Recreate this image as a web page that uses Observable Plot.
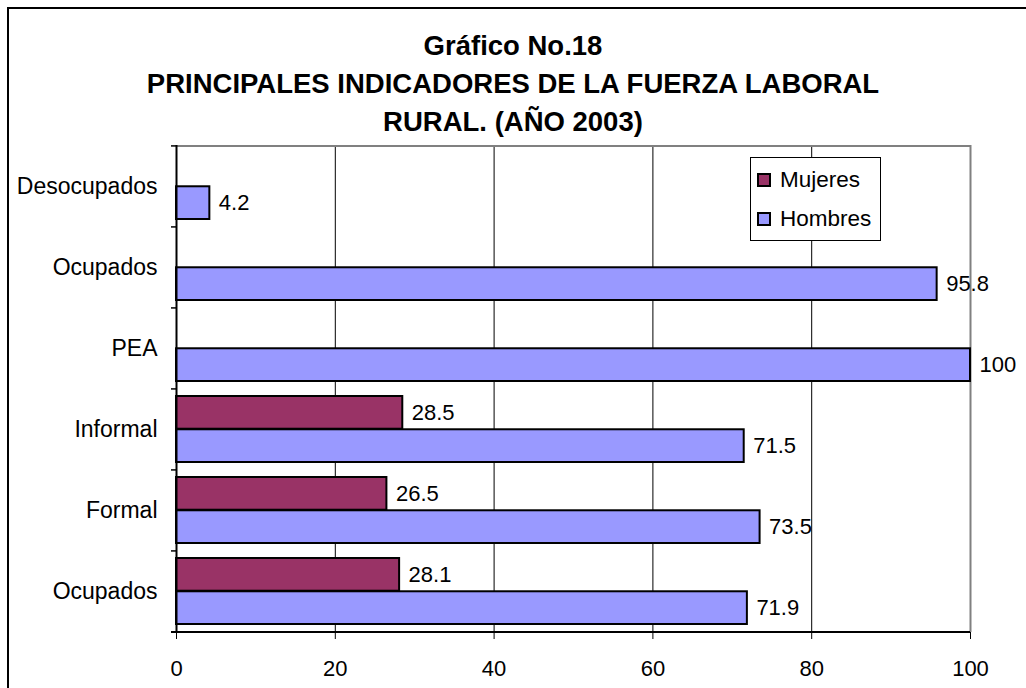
<!DOCTYPE html>
<html>
<head>
<meta charset="utf-8">
<script src="https://cdn.jsdelivr.net/npm/d3@7"></script>
<script src="https://cdn.jsdelivr.net/npm/@observablehq/plot@0.6"></script>
<style>
  body { margin: 0; background: #fff; font-family: Arial, "Liberation Sans", sans-serif; }
  #page { position: relative; width: 1026px; height: 688px; overflow: hidden; background: #fff; }
  #frame { position: absolute; left: 7px; top: 7px; width: 1100px; height: 800px; border: 2px solid #000; box-sizing: border-box; }
  #title { position: absolute; left: 0; top: 27px; width: 1026px; text-align: center; font-weight: bold; font-size: 27.5px; line-height: 38px; color: #000; }
  #chart { position: absolute; left: 0; top: 135px; }
  #legend { position: absolute; left: 750px; top: 157px; width: 131px; height: 84px; border: 1px solid #000; background: #fff; box-sizing: border-box; font-size: 22.5px; }
  .sw { position: absolute; width: 14px; height: 14px; border: 2px solid #000; box-sizing: border-box; }
  .lt { position: absolute; left: 29px; line-height: 22px; white-space: nowrap; }
</style>
</head>
<body>
<div id="page">
  <div id="frame"></div>
  <div id="title">Gráfico No.18<br>PRINCIPALES INDICADORES DE LA FUERZA LABORAL<br>RURAL. (AÑO 2003)</div>
  <div id="chart"></div>
  <div id="legend"></div>
</div>
<script>
// ---- data ----
const categoryKeys = ["desocupados", "ocupados1", "pea", "informal", "formal", "ocupados2"];
const categoryLabels = ["Desocupados", "Ocupados", "PEA", "Informal", "Formal", "Ocupados"];
const seriesNames = ["Mujeres", "Hombres"];
const seriesColors = ["#993366", "#9999FF"];
const mujeres = [null, null, null, 28.5, 26.5, 28.1];
const hombres = [4.2, 95.8, 100, 71.5, 73.5, 71.9];
const xTicks = [0, 20, 40, 60, 80, 100];

// ---- build rows ----
const rowsM = categoryKeys.map((k, i) => ({key: k, value: mujeres[i]})).filter(d => d.value != null);
const rowsH = categoryKeys.map((k, i) => ({key: k, value: hombres[i]})).filter(d => d.value != null);
const labelOf = Object.fromEntries(categoryKeys.map((k, i) => [k, categoryLabels[i]]));

const W = 1026, H = 553, mT = 10, mB = 56, mL = 176, mR = 56;
const padIn = 0.18, padOut = 0.09;
const plotH = H - mT - mB;
const step = plotH / (categoryKeys.length - padIn + 2 * padOut);
const bw = step * (1 - padIn);
const half = bw / 2;
const fs = 22;

const chart = Plot.plot({
  width: W,
  height: H,
  marginTop: mT,
  marginBottom: mB,
  marginLeft: mL,
  marginRight: mR,
  style: {fontFamily: "Arial, 'Liberation Sans', sans-serif", fontSize: fs + "px", color: "#000", background: "transparent"},
  x: {domain: [0, 100]},
  y: {domain: categoryKeys, paddingInner: padIn, paddingOuter: padOut},
  marks: [
    // grid
    Plot.ruleX(xTicks.slice(1, -1), {stroke: "#000", strokeWidth: 1}),
    Plot.ruleX([100], {stroke: "#808080", strokeWidth: 2}),
    Plot.ruleY([categoryKeys[0]], {dy: -step / 2, stroke: "#808080", strokeWidth: 2}),
    // bars
    Plot.barX(rowsM, {x: "value", y: "key", fill: seriesColors[0], stroke: "#000", strokeWidth: 2, insetBottom: half}),
    Plot.barX(rowsH, {x: "value", y: "key", fill: seriesColors[1], stroke: "#000", strokeWidth: 2, insetTop: half}),
    // axis lines and category boundary ticks
    Plot.ruleX([0], {stroke: "#000", strokeWidth: 2}),
    Plot.ruleY(categoryKeys, {dy: -step / 2, x1: 0, x2: 0, insetLeft: -5, stroke: "#000", strokeWidth: 1.5}),
    Plot.ruleY([categoryKeys[categoryKeys.length - 1]], {dy: step / 2, insetLeft: -5, stroke: "#000", strokeWidth: 2}),
    // value labels
    Plot.text(rowsM, {x: "value", y: "key", text: d => String(d.value), dx: 9, dy: -half / 2, textAnchor: "start", fontSize: fs, fill: "#000"}),
    Plot.text(rowsH, {x: "value", y: "key", text: d => String(d.value), dx: 9, dy: half / 2, textAnchor: "start", fontSize: fs, fill: "#000"}),
    // axes
    Plot.axisX({ticks: xTicks, tickSize: 7, tickPadding: 21, fontSize: fs, label: null, stroke: "#000"}),
    Plot.axisY({tickSize: 0, tickPadding: 19, fontSize: 23, label: null, tickFormat: k => labelOf[k]})
  ]
});
document.getElementById("chart").appendChild(chart);

// ---- legend ----
const legend = document.getElementById("legend");
seriesNames.forEach((name, i) => {
  const top = i === 0 ? 15 : 54;
  const sw = document.createElement("div");
  sw.className = "sw";
  sw.style.left = "6px";
  sw.style.top = top + "px";
  sw.style.background = seriesColors[i];
  legend.appendChild(sw);
  const t = document.createElement("div");
  t.className = "lt";
  t.style.top = (top - 4) + "px";
  t.textContent = name;
  legend.appendChild(t);
});
</script>
</body>
</html>
